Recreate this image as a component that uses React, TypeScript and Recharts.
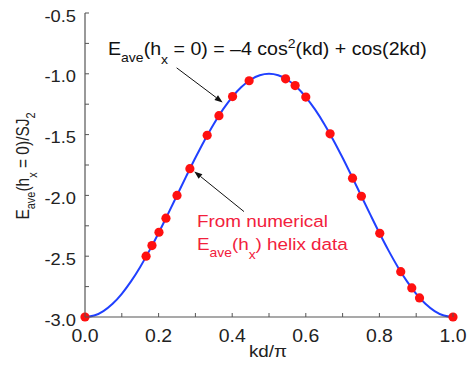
import React from 'react';
import { ComposedChart, Line, Scatter, XAxis, YAxis, ReferenceLine } from 'recharts';

// Theoretical curve: E_ave(h_x=0) vs kd/pi
const curveX = [0, 0.025, 0.05, 0.075, 0.1, 0.125, 0.15, 0.175, 0.2, 0.225, 0.25, 0.275, 0.3, 0.325, 0.35, 0.375, 0.4, 0.425, 0.45, 0.475, 0.5,
  0.525, 0.55, 0.575, 0.6, 0.625, 0.65, 0.675, 0.7, 0.725, 0.75, 0.775, 0.8, 0.825, 0.85, 0.875, 0.9, 0.925, 0.95, 0.975, 1.0];
const curveY = [-3.0, -2.988, -2.951, -2.891, -2.809, -2.707, -2.588, -2.454, -2.309, -2.156, -2.0, -1.844, -1.691, -1.546, -1.412, -1.293, -1.191, -1.109, -1.049, -1.012, -1.0,
  -1.012, -1.049, -1.109, -1.191, -1.293, -1.412, -1.546, -1.691, -1.844, -2.0, -2.156, -2.309, -2.454, -2.588, -2.707, -2.809, -2.891, -2.951, -2.988, -3.0];

// Numerical helix data points
const dotX = [0.0, 0.166, 0.182, 0.201, 0.220, 0.250, 0.285, 0.332, 0.364, 0.401, 0.446, 0.545, 0.571, 0.600, 0.666, 0.727, 0.751, 0.801, 0.858, 0.888, 0.909, 1.0];
const dotY = [-3.0, -2.50, -2.413, -2.303, -2.187, -2.0, -1.78, -1.506, -1.344, -1.187, -1.057, -1.041, -1.097, -1.191, -1.494, -1.858, -2.007, -2.312, -2.627, -2.761, -2.843, -3.0];

const xTicks = [0, 0.1, 0.2, 0.3, 0.4, 0.5, 0.6, 0.7, 0.8, 0.9, 1.0];
const xMajor = [0, 0.2, 0.4, 0.6, 0.8, 1.0];
const yTicks = [-3.0, -2.75, -2.5, -2.25, -2.0, -1.75, -1.5, -1.25, -1.0, -0.75, -0.5];
const yMajor = [-3.0, -2.5, -2.0, -1.5, -1.0, -0.5];

// Arrow annotations in data coordinates: [x1, y1, x2, y2]
const arrowFormula = [0.249, -0.951, 0.374, -1.235];
const arrowData = [0.432, -2.133, 0.297, -1.803];

const curveData = curveX.map((x, i) => ({ x, y: curveY[i] }));
const dotData = dotX.map((x, i) => ({ x, y: dotY[i] }));

const FONT = '"Liberation Sans", Arial, sans-serif';
const AXIS_GRAY = '#555';
const RED = '#f2203c';
const SX = 1.11;

const isMajor = (v: number, arr: number[]) => arr.some((m) => Math.abs(m - v) < 1e-6);

const BottomTick = (props: any) => {
  const { x, y, payload } = props;
  const major = isMajor(payload.value, xMajor);
  return (
    <g>
      <line x1={x} y1={y} x2={x} y2={y - 4} stroke={AXIS_GRAY} strokeWidth={1} />
      {major && (
        <text transform={`translate(${x},${y + 25}) scale(${SX},1)`} textAnchor="middle" fontSize={17.5} fontFamily={FONT} fill="#222">
          {payload.value.toFixed(1)}
        </text>
      )}
    </g>
  );
};
const TopTick = (props: any) => {
  const { x, y } = props;
  return <line x1={x} y1={y} x2={x} y2={y + 4} stroke="#000" strokeWidth={1} />;
};
const LeftTick = (props: any) => {
  const { x, y, payload } = props;
  const major = isMajor(payload.value, yMajor);
  return (
    <g>
      <line x1={x} y1={y} x2={x + 4} y2={y} stroke={AXIS_GRAY} strokeWidth={1} />
      {major && (
        <text transform={`translate(${x - 9},${y + 8.5}) scale(${SX},1)`} textAnchor="end" fontSize={16.5} fontFamily={FONT} fill="#222">
          {payload.value.toFixed(1)}
        </text>
      )}
    </g>
  );
};
const RightTick = (props: any) => {
  const { x, y } = props;
  return <line x1={x} y1={y} x2={x - 4} y2={y} stroke="#000" strokeWidth={1} />;
};

const ArrowShape = (props: any) => {
  const { x1, y1, x2, y2 } = props;
  if ([x1, y1, x2, y2].some((v) => typeof v !== 'number')) return null;
  const dx = x2 - x1;
  const dy = y2 - y1;
  const len = Math.sqrt(dx * dx + dy * dy) || 1;
  const ux = dx / len;
  const uy = dy / len;
  const hl = 8;
  const hw = 3;
  const bx = x2 - ux * hl;
  const by = y2 - uy * hl;
  const p1 = `${x2},${y2}`;
  const p2 = `${bx - uy * hw},${by + ux * hw}`;
  const p3 = `${bx + uy * hw},${by - ux * hw}`;
  return (
    <g>
      <line x1={x1} y1={y1} x2={bx} y2={by} stroke="#111" strokeWidth={1} />
      <polygon points={`${p1} ${p2} ${p3}`} fill="#111" />
    </g>
  );
};

export default function App() {
  return (
    <div style={{ position: 'absolute', left: 0, top: 0, width: 471, height: 377, background: '#fff' }}>
      <ComposedChart width={471} height={377} margin={{ top: 13, right: 18, bottom: 0, left: 0 }}>
        <XAxis
          xAxisId="b"
          dataKey="x"
          type="number"
          domain={[0, 1]}
          ticks={xTicks}
          interval={0}
          orientation="bottom"
          height={60}
          tickSize={0}
          tickMargin={0}
          tick={<BottomTick />}
          axisLine={{ stroke: AXIS_GRAY, strokeWidth: 1.2 }}
          tickLine={false}
        />
        <XAxis
          xAxisId="t"
          dataKey="x"
          type="number"
          domain={[0, 1]}
          ticks={xTicks}
          interval={0}
          orientation="top"
          height={0}
          tickSize={0}
          tickMargin={0}
          tick={<TopTick />}
          axisLine={{ stroke: '#000', strokeWidth: 1.2 }}
          tickLine={false}
        />
        <YAxis
          yAxisId="l"
          dataKey="y"
          type="number"
          domain={[-3, -0.5]}
          ticks={yTicks}
          interval={0}
          orientation="left"
          width={85}
          tickSize={0}
          tickMargin={0}
          tick={<LeftTick />}
          axisLine={{ stroke: AXIS_GRAY, strokeWidth: 1.2 }}
          tickLine={false}
        />
        <YAxis
          yAxisId="r"
          dataKey="y"
          type="number"
          domain={[-3, -0.5]}
          ticks={yTicks}
          interval={0}
          orientation="right"
          width={0}
          tickSize={0}
          tickMargin={0}
          tick={<RightTick />}
          axisLine={{ stroke: '#000', strokeWidth: 1.2 }}
          tickLine={false}
        />
        <Line
          xAxisId="b"
          yAxisId="l"
          data={curveData}
          dataKey="y"
          type="monotone"
          stroke="#2040ff"
          strokeWidth={2}
          dot={false}
          isAnimationActive={false}
        />
        <Scatter
          xAxisId="b"
          yAxisId="l"
          data={dotData}
          dataKey="y"
          fill="#ff1010"
          shape={(p: any) => <circle cx={p.cx} cy={p.cy} r={4.6} fill="#ff1010" />}
          isAnimationActive={false}
        />
        <ReferenceLine
          xAxisId="b"
          yAxisId="l"
          segment={[{ x: arrowFormula[0], y: arrowFormula[1] }, { x: arrowFormula[2], y: arrowFormula[3] }]}
          shape={<ArrowShape />}
          ifOverflow="visible"
        />
        <ReferenceLine
          xAxisId="b"
          yAxisId="l"
          segment={[{ x: arrowData[0], y: arrowData[1] }, { x: arrowData[2], y: arrowData[3] }]}
          shape={<ArrowShape />}
          ifOverflow="visible"
        />
      </ComposedChart>
      <svg width={471} height={377} style={{ position: 'absolute', left: 0, top: 0, pointerEvents: 'none' }}>
        <text transform={`translate(108,55) scale(1.12,1)`} fontSize={17.5} fontFamily={FONT} fill="#111">
          <tspan>E</tspan>
          <tspan fontSize={12.5} dy={7}>ave</tspan>
          <tspan dy={-7}>(h</tspan>
          <tspan fontSize={12.5} dy={9}>x</tspan>
          <tspan dy={-9}> = 0) = –4 cos</tspan>
          <tspan fontSize={12.5} dy={-7}>2</tspan>
          <tspan dy={7}>(kd) + cos(2kd)</tspan>
        </text>
        <text transform={`translate(197,227) scale(${SX},1)`} fontSize={17} fontFamily={FONT} fill={RED}>From numerical</text>
        <text transform={`translate(197,250) scale(${SX},1)`} fontSize={17} fontFamily={FONT} fill={RED}>
          <tspan>E</tspan>
          <tspan fontSize={12.5} dy={7}>ave</tspan>
          <tspan dy={-7}>(h</tspan>
          <tspan fontSize={12.5} dy={9}>x</tspan>
          <tspan dy={-9}>) helix data</tspan>
        </text>
        <text transform={`translate(268,357) scale(${SX},1)`} textAnchor="middle" fontSize={17} fontFamily={FONT} fill="#222">kd/π</text>
        <text
          transform={`translate(29,166) scale(1.2,1) rotate(-90)`}
          textAnchor="middle"
          fontSize={15.5}
          fontFamily={FONT}
          fill="#222"
        >
          <tspan>E</tspan>
          <tspan fontSize={11} dy={5}>ave</tspan>
          <tspan dy={-5}>(h</tspan>
          <tspan fontSize={11} dy={7}>x</tspan>
          <tspan dy={-7}> = 0)/SJ</tspan>
          <tspan fontSize={11} dy={5}>2</tspan>
        </text>
      </svg>
    </div>
  );
}
